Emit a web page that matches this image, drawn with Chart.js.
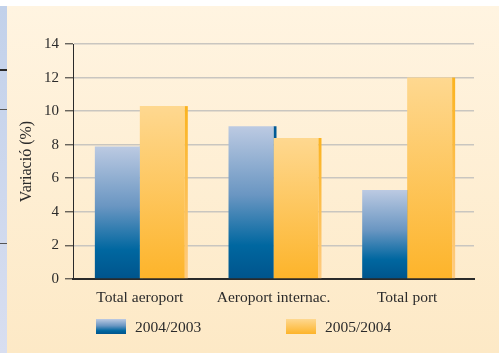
<!DOCTYPE html>
<html>
<head>
<meta charset="utf-8">
<script src="https://cdn.jsdelivr.net/npm/chart.js@4"></script>
<style>
  html, body { margin: 0; padding: 0; background: #ffffff; }
  #wrap { position: relative; width: 499px; height: 353px; overflow: hidden; }
  #strip { position: absolute; left: 0; top: 6px; width: 7px; height: 347px;
           background: linear-gradient(to bottom, #c2d1ea, #d8def0); }
  .mk { position: absolute; left: 0; width: 7px; }
  #cream { position: absolute; left: 7px; top: 6px; width: 492px; height: 347px;
           background: linear-gradient(to bottom, #fff4e1, #fde9c6); }
  canvas { position: absolute; left: 0; top: 0; }
</style>
</head>
<body>
<div id="wrap">
  <div id="strip"></div>
  <div class="mk" style="top:69px;height:2px;background:#2a2a2a"></div>
  <div class="mk" style="top:109px;height:1px;background:#555"></div>
  <div class="mk" style="top:243px;height:1px;background:#555"></div>
  <div id="cream"></div>
  <canvas id="c" width="499" height="353"></canvas>
</div>
<script>
const categories = ["Total aeroport", "Aeroport internac.", "Total port"];
const seriesLabels = ["2004/2003", "2005/2004"];
const values0403 = [7.9, 9.1, 5.3];
const values0504 = [10.3, 8.4, 12.0];
const yTitle = "Variació (%)";

const SERIF = "'Liberation Serif', 'Times New Roman', serif";
const TEXT = "#2b2b2b";

function blueGrad(c, top, bottom) {
  const g = c.createLinearGradient(0, top, 0, bottom);
  g.addColorStop(0, "#bccae2");
  g.addColorStop(0.45, "#6a96c2");
  g.addColorStop(0.78, "#0067a0");
  g.addColorStop(1, "#00548c");
  return g;
}
function orangeGrad(c, top, bottom) {
  const g = c.createLinearGradient(0, top, 0, bottom);
  g.addColorStop(0, "#fed890");
  g.addColorStop(1, "#fdb42a");
  return g;
}
function barColor(kind) {
  return (ctx) => {
    const fallback = kind === 0 ? "#3d7fb5" : "#fdc45a";
    const chart = ctx.chart;
    const ys = chart.scales && chart.scales.y;
    if (!ys || ctx.raw == null || ctx.type !== "data") return fallback;
    const top = ys.getPixelForValue(ctx.raw), bottom = ys.getPixelForValue(0);
    if (!isFinite(top) || !isFinite(bottom) || top === bottom) return fallback;
    return kind === 0 ? blueGrad(chart.ctx, top, bottom) : orangeGrad(chart.ctx, top, bottom);
  };
}

const stripes = {
  id: "stripes",
  beforeDatasetsDraw(chart) {
    const c = chart.ctx;
    c.save();
    chart.getDatasetMeta(0).data.forEach(el => {
      const r = el.x + el.width / 2;
      c.fillStyle = "#005a96";
      c.fillRect(r, el.y, 3, el.base - el.y);
    });
    c.restore();
  },
  afterDatasetsDraw(chart) {
    const c = chart.ctx;
    c.save();
    chart.getDatasetMeta(1).data.forEach(el => {
      const r = el.x + el.width / 2;
      const g = c.createLinearGradient(0, el.y, 0, el.base);
      g.addColorStop(0, "#fbb31f");
      g.addColorStop(1, "#fecb82");
      c.fillStyle = g;
      c.fillRect(r, el.y, 3, el.base - el.y);
    });
    c.restore();
  }
};

const legendPlugin = {
  id: "customLegend",
  afterDraw(chart) {
    const c = chart.ctx;
    const a = chart.chartArea;
    const y0 = a.bottom + 40;
    const items = [
      { x: a.left + 23, grad: blueGrad, label: chart.data.datasets[0].label },
      { x: a.left + 213, grad: orangeGrad, label: chart.data.datasets[1].label }
    ];
    c.save();
    items.forEach(it => {
      c.fillStyle = it.grad(c, y0, y0 + 15);
      c.fillRect(it.x, y0, 30, 15);
      c.fillStyle = TEXT;
      c.font = "15.5px " + SERIF;
      c.textBaseline = "middle";
      c.textAlign = "left";
      c.fillText(it.label, it.x + 39, y0 + 8.5);
    });
    c.restore();
  }
};

new Chart(document.getElementById("c"), {
  type: "bar",
  data: {
    labels: categories,
    datasets: [
      { label: seriesLabels[0], data: values0403, backgroundColor: barColor(0), borderWidth: 0 },
      { label: seriesLabels[1], data: values0504, backgroundColor: barColor(1), borderWidth: 0 }
    ]
  },
  options: {
    responsive: false,
    animation: false,
    events: [],
    layout: { padding: { left: 0, right: 25, top: 44, bottom: 0 } },
    datasets: { bar: { categoryPercentage: 0.673, barPercentage: 1.0 } },
    plugins: { legend: { display: false }, tooltip: { enabled: false } },
    scales: {
      x: {
        afterFit: s => { s.height = 74; },
        grid: { display: false, drawTicks: false },
        border: { display: true, color: "#2a2a2a", width: 2 },
        ticks: { color: TEXT, font: { family: SERIF, size: 15.5 }, padding: 9.5, maxRotation: 0 }
      },
      y: {
        min: 0, max: 14,
        afterFit: s => { s.width = 73; },
        ticks: { stepSize: 2, color: TEXT, font: { family: SERIF, size: 15 }, padding: 6 },
        grid: {
          color: ctx => (ctx.tick && ctx.tick.value === 0) ? "#2a2a2a" : "#c9c6c0",
          lineWidth: 1.6,
          tickColor: "#2a2a2a",
          tickWidth: 1,
          tickLength: 8
        },
        border: { display: true, color: "#2a2a2a", width: 1 },
        title: { display: true, text: yTitle, color: TEXT, font: { family: SERIF, size: 16 }, padding: { top: 17, bottom: 0 } }
      }
    }
  },
  plugins: [stripes, legendPlugin]
});
</script>
</body>
</html>
